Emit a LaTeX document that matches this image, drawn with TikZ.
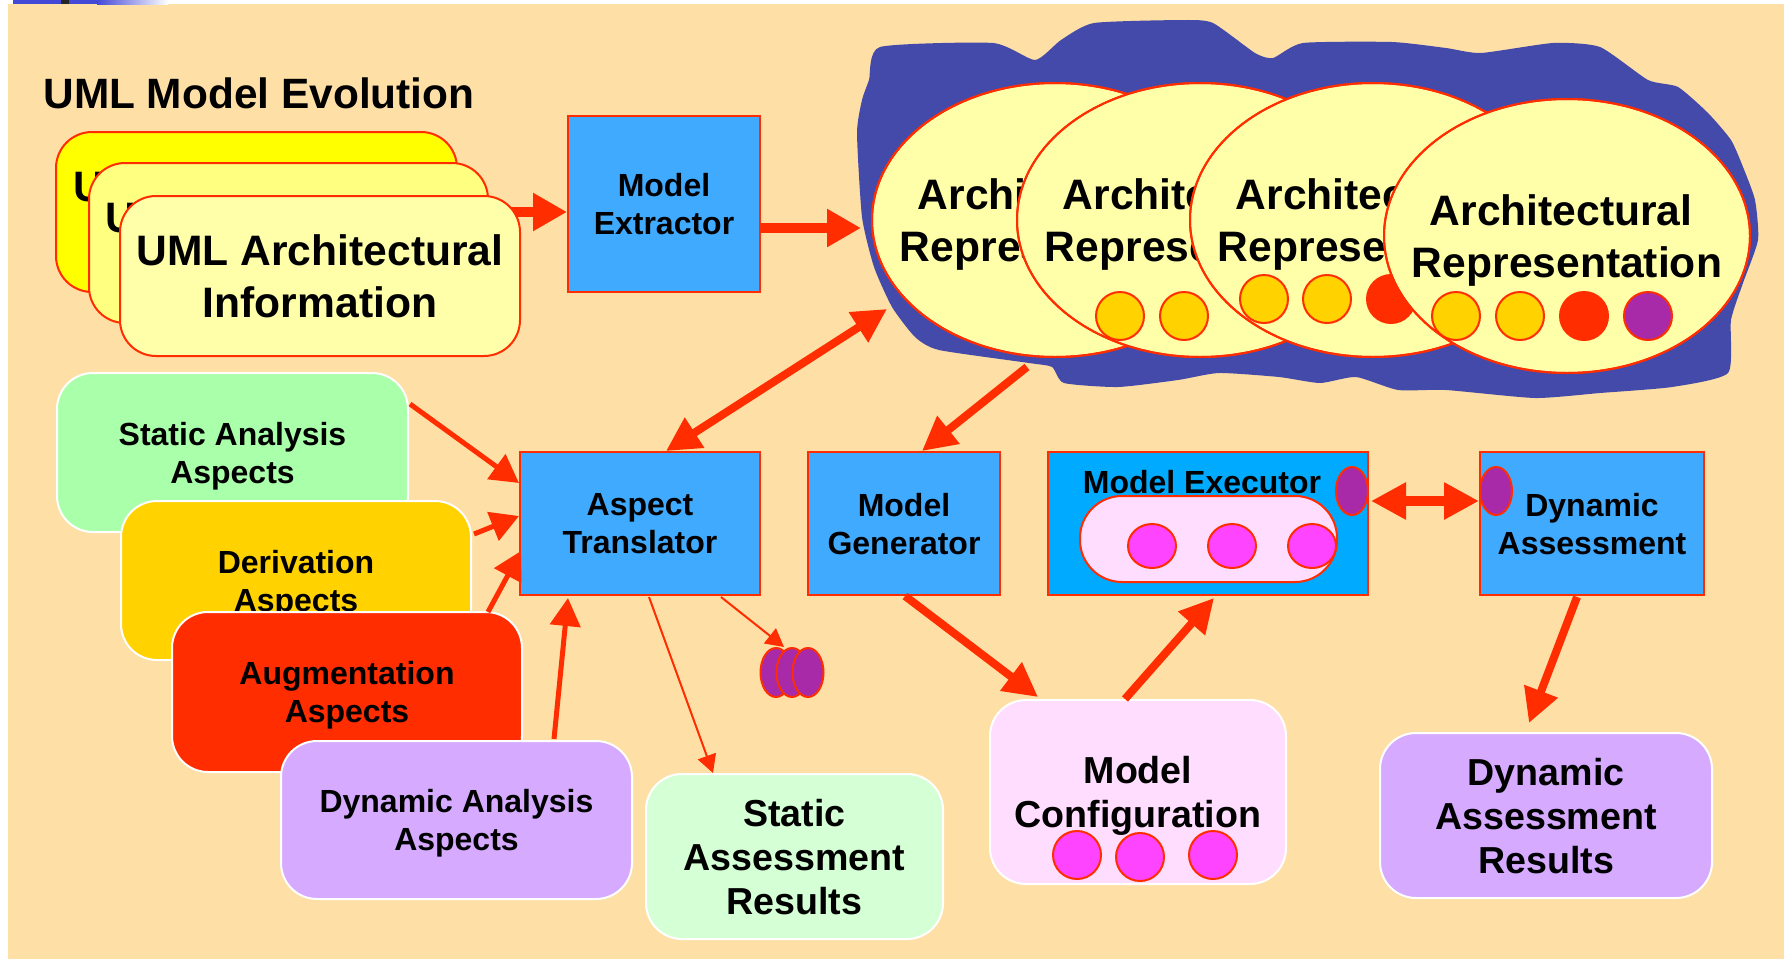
\documentclass[tikz,border=0pt]{standalone}
\usepackage{fontspec}
\setmainfont{Liberation Sans}
\usetikzlibrary{arrows.meta,calc,shapes.geometric}

\definecolor{peach}{RGB}{254,223,166}
\definecolor{edgered}{RGB}{255,45,0}
\definecolor{skyblue}{RGB}{64,170,255}
\definecolor{execblue}{RGB}{0,170,255}
\definecolor{cloudblue}{RGB}{68,74,170}
\definecolor{paleyellow}{RGB}{255,255,170}
\definecolor{midyellow}{RGB}{255,255,128}
\definecolor{brightyellow}{RGB}{255,255,0}
\definecolor{gold}{RGB}{255,210,0}
\definecolor{plum}{RGB}{168,42,168}
\definecolor{magentadot}{RGB}{255,68,255}
\definecolor{palepink}{RGB}{255,221,255}
\definecolor{lilac}{RGB}{213,170,255}
\definecolor{mint}{RGB}{170,255,170}
\definecolor{palemint}{RGB}{213,255,213}
\definecolor{barblue}{RGB}{68,72,214}

\newcommand\sztitle{\fontsize{21.2}{24}\selectfont}
\newcommand\szbig{\fontsize{21.3}{26}\selectfont}
\newcommand\szbox{\fontsize{16}{19}\selectfont}
\newcommand\szres{\fontsize{18.8}{22}\selectfont}
% first line of a representation label carries a trailing space
\newcommand\archline{Architectural\kern0.278em}

\tikzset{
  softbox/.style={rectangle, rounded corners=18pt, draw=white, line width=1pt,
    align=center, font=\bfseries\szbox, inner sep=0pt, text depth=0pt},
  resultbox/.style={softbox, font=\bfseries\szres},
  umlbox/.style={rectangle, rounded corners=18pt, draw=edgered, line width=1pt,
    align=center, font=\bfseries\szbig, inner sep=0pt, text depth=0pt,
    minimum height=80pt},
  toolbox/.style={rectangle, draw=edgered, line width=1pt, fill=skyblue,
    align=center, font=\bfseries\szbox, inner sep=0pt, text depth=0pt,
    minimum height=71.5pt},
  repr/.style={ellipse, draw=edgered, line width=1pt, fill=paleyellow,
    minimum width=183pt, minimum height=137pt, inner sep=0pt},
  reprtext/.style={align=center, font=\bfseries\szbig, inner sep=0pt, text depth=0pt},
  rim/.style={draw=edgered, line width=1pt},
  dot/.style={rim, fill=#1},
  flow/.style={draw=edgered, line width=5pt, -{Triangle[length=17pt,width=18pt]}},
  flowmed/.style={draw=edgered, line width=4pt, -{Triangle[length=17pt,width=17pt]}},
  flowsmall/.style={draw=edgered, line width=2.5pt, -{Triangle[length=14pt,width=15pt]}},
  flowthin/.style={draw=edgered, line width=1pt, -{Triangle[length=9pt,width=9.5pt]}},
}

\begin{document}
\begin{tikzpicture}[x=0.5pt,y=-0.5pt]
\path[use as bounding box] (0,0) rectangle (1784,959);
\fill[white] (0,0) rectangle (1784,959);
\fill[peach] (8,4) rectangle (1784,959);

% slide header strip
\fill[barblue] (13,0) rectangle (97,4);
\fill[black!85] (61,0) rectangle (69,4);
\shade[left color=barblue, right color=white] (97,0) rectangle (168,4);

% title
\node[anchor=base west, font=\bfseries\sztitle, inner sep=0pt] (title) at (43,108) {UML Model Evolution};

% cloud holding the architectural representations
\fill[cloudblue] plot[smooth cycle, tension=0.35] coordinates {
 (880,47) (993,43) (1035,60) (1061,40) (1094,23) (1184,20) (1213,23) (1255,53)
 (1273,58) (1303,43) (1392,42) (1446,48) (1481,53) (1553,43) (1600,47) (1648,80)
 (1678,87) (1708,113) (1731,140) (1743,167) (1755,200) (1758,240) (1743,283)
 (1731,320) (1728,373) (1672,387) (1600,393) (1535,398) (1446,390) (1398,390)
 (1356,377) (1320,383) (1279,377) (1219,373) (1178,380) (1118,387) (1064,383)
 (1052,367) (1029,363) (939,350) (915,337) (892,307) (874,267) (862,217)
 (857,133) (862,100) (869,80)};

% representation 1
\node[repr] (e1) at (1055,220) {};
\node[reprtext] (e1t) at (e1.center) {\archline\\Representation};
\draw[rim] (e1.center) ellipse [x radius=183, y radius=137];
% representation 2
\node[repr] (e2) at (1200,220) {};
\node[reprtext] (e2t) at (e2.center) {\archline\\Representation};
\filldraw[dot=gold] (1120,316) circle [radius=24];
\filldraw[dot=gold] (1184,316) circle [radius=24];
\draw[rim] (e2.center) ellipse [x radius=183, y radius=137];
% representation 3
\node[repr] (e3) at (1373,220) {};
\node[reprtext] (e3t) at (e3.center) {\archline\\Representation};
\filldraw[dot=gold] (1264,299) circle [radius=24];
\filldraw[dot=gold] (1327,299) circle [radius=24];
\filldraw[dot=edgered] (1391,299) circle [radius=24];
\draw[rim] (e3.center) ellipse [x radius=183, y radius=137];
% representation 4
\node[repr] (e4) at (1567,236) {};
\node[reprtext] (e4t) at (e4.center) {\archline\\Representation};
\filldraw[dot=gold] (1456,316) circle [radius=24];
\filldraw[dot=gold] (1520,316) circle [radius=24];
\filldraw[dot=edgered] (1584,316) circle [radius=24];
\filldraw[dot=plum] (1648,316) circle [radius=24];
\draw[rim] (e4.center) ellipse [x radius=183, y radius=137];

% tools
\node[toolbox, minimum width=96pt, minimum height=88pt] (ext) at (664,204) {Model\\Extractor};
\node[toolbox, minimum width=120pt] (at) at (640,523.5) {Aspect\\Translator};
\node[toolbox, minimum width=96pt] (mg) at (904,523.5) {Model\\Generator};
\node[toolbox, minimum width=160pt, fill=execblue] (mx) at (1208,523.5) {};
\node[anchor=base, font=\bfseries\szbox, inner sep=0pt] (mxt) at (1202,493) {Model Executor};
\node[rectangle, rounded corners=21pt, draw=edgered, line width=1pt, fill=palepink,
  minimum width=128.5pt, minimum height=43pt, inner sep=0pt] (pool) at (1208.5,539) {};
\filldraw[dot=magentadot] (1152,546) ellipse [x radius=24, y radius=22];
\filldraw[dot=magentadot] (1232,546) ellipse [x radius=24, y radius=22];
\filldraw[dot=magentadot] (1312,546) ellipse [x radius=24, y radius=22];
\filldraw[dot=plum] (1352,491) ellipse [x radius=16, y radius=24];
\node[toolbox, minimum width=112pt] (da) at (1592,523.5) {Dynamic\\Assessment};
\filldraw[dot=plum] (1496,491) ellipse [x radius=16, y radius=24];

% UML input stack
\node[umlbox, fill=brightyellow, minimum width=200.5pt] (uml1) at (256.5,212) {UML Architectural\\Information};
\node[umlbox, fill=midyellow, minimum width=199.5pt] (uml2) at (288.5,243) {UML Architectural\\Information};
\draw[flow] ($(uml2.east)+(0,-31)$) -- ($(ext.west)+(0,8)$);
\node[umlbox, fill=paleyellow, minimum width=200pt] (uml3) at (320,276) {UML Architectural\\Information};

% aspect inputs
\node[softbox, fill=mint, minimum width=175.5pt, minimum height=79.5pt] (sa) at (232.5,452.5) {Static Analysis\\Aspects};
\node[softbox, fill=gold, minimum width=175pt, minimum height=79.5pt] (der) at (296,580.5) {Derivation\\Aspects};
\node[softbox, fill=edgered, minimum width=175pt, minimum height=80pt] (aug) at (347,692) {Augmentation\\Aspects};
\node[softbox, fill=lilac, minimum width=175.5pt, minimum height=79pt] (dyn) at (456.5,820) {Dynamic Analysis\\Aspects};

% results
\node[resultbox, fill=palemint, minimum width=148.5pt, minimum height=82.5pt] (sar) at (794.5,856.5) {Static\\Assessment\\Results};
\node[resultbox, fill=palepink, minimum width=148pt, minimum height=92pt] (mc) at (1138,792) {Model\\Configuration};
\filldraw[dot=magentadot] (1077,855) circle [radius=24];
\filldraw[dot=magentadot] (1140,857) circle [radius=24];
\filldraw[dot=magentadot] (1213,855) circle [radius=24];
\node[resultbox, fill=lilac, minimum width=166pt, minimum height=82.5pt] (dar) at (1546,815.5) {Dynamic\\Assessment\\Results};

% aspect tokens
\node[ellipse, rim, fill=plum, minimum width=15.5pt, minimum height=24.5pt, inner sep=0pt] (d1) at (776,672.5) {};
\node[ellipse, rim, fill=plum, minimum width=15.5pt, minimum height=24.5pt, inner sep=0pt] (d2) at (792,672.5) {};
\node[ellipse, rim, fill=plum, minimum width=15.5pt, minimum height=24.5pt, inner sep=0pt] (d3) at (808,672.5) {};

% flows
\draw[flow] ($(ext.east)+(0,24)$) -- ($(e1.west)+(-10,8)$);
\draw[flowmed, {Triangle[length=17pt,width=17pt]}-{Triangle[length=17pt,width=17pt]}]
  ($(at.north)+(26,0)$) -- ($(e1.center)+(-168,89)$);
\draw[flowmed] ($(e1.south)+(-28,9)$) -- ($(mg.north)+(18,0)$);
\draw[flowmed] ($(mg.south)+(1,0)$) -- ($(mc.north)+(-100,-2)$);
\draw[flowmed] ($(mc.north)+(-13,0)$) -- ($(mx.south)+(6,2)$);
\draw[flow, {Triangle[length=17.5pt,width=17.5pt]}-{Triangle[length=17.5pt,width=17.5pt]}]
  ($(mx.east)+(2,-22.5)$) -- ($(da.west)+(0,-22.5)$);
\draw[flowmed] ($(da.south)+(-15,1)$) -- ($(dar.north)+(-17,-9)$);
\draw[flowsmall] ($(sa.east)+(1,-48.5)$) -- ($(at.west)+(0,-40.5)$);
\draw[flowsmall] ($(der.east)+(2,-46.5)$) -- ($(at.west)+(0,-7.5)$);
\draw[flowsmall] ($(aug.north)+(141,1)$) -- ($(at.west)+(2,27.5)$);
\draw[flowsmall] ($(dyn.north)+(97.5,-1)$) -- ($(at.south)+(-72,2)$);
\draw[flowthin] ($(at.south)+(9,1)$) -- ($(sar.north)+(-81.5,0)$);
\draw[flowthin] ($(at.south)+(81,1)$) -- ($(d2.north)+(-8,0)$);
\end{tikzpicture}
\end{document}
